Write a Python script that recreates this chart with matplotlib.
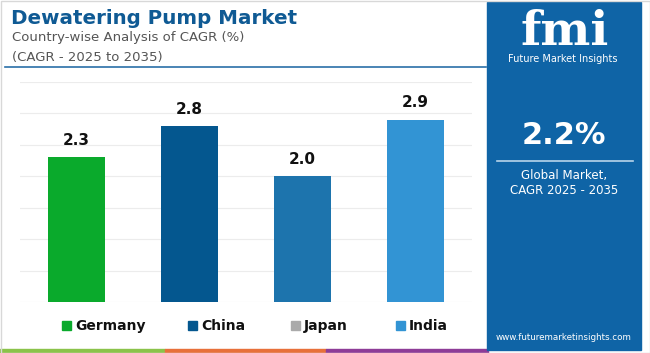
import numpy as np
import matplotlib.pyplot as plt
from matplotlib.patches import Rectangle

countries = ["Germany", "China", "Japan", "India"]
cagr = [2.3, 2.8, 2.0, 2.9]
bar_colors = ["#0aaa2c", "#04578f", "#1d74ad", "#3294d4"]
legend_colors = ["#0aaa2c", "#04578f", "#aaaaaa", "#3294d4"]
global_cagr = "2.2%"

W, H = 650, 353
fig = plt.figure(figsize=(6.5, 3.53), dpi=100)
fig.patch.set_facecolor("white")

def px(x, y):
    # pixel coords (top-left origin) -> figure fraction
    return x / W, 1 - y / H

# chart axes
ax = fig.add_axes([20 / W, 51 / H, 452 / W, 220 / H])
x = np.arange(len(countries))
bars = ax.bar(x, cagr, width=0.5, color=bar_colors, zorder=3)
for xi, v in zip(x, cagr):
    ax.text(xi, v + 0.15, f"{v:.1f}", ha="center", va="bottom",
            fontsize=11, fontweight="bold", color="#111111")
ax.set_xlim(-0.5, 3.5)
ax.set_ylim(0, 3.5)
ax.set_yticks(np.arange(0, 3.51, 0.5))
ax.grid(axis="y", color="#ececec", linewidth=0.8, zorder=0)
ax.tick_params(left=False, bottom=False, labelleft=False, labelbottom=False)
for s in ax.spines.values():
    s.set_visible(False)

# titles
fig.text(*px(11, 18), "Dewatering Pump Market", fontsize=14.3, fontweight="bold",
         color="#0f5a94", va="center", ha="left")
fig.text(*px(12, 38), "Country-wise Analysis of CAGR (%)", fontsize=9.5,
         color="#555555", va="center", ha="left")
fig.text(*px(12, 57), "(CAGR - 2025 to 2035)", fontsize=9.5,
         color="#555555", va="center", ha="left")
fig.add_artist(plt.Line2D([5 / W, 486 / W], [1 - 67 / H, 1 - 67 / H],
                          color="#2a6fa8", linewidth=1.2))

# legend
leg_x = [62, 188, 291, 396]
for lx, name, c in zip(leg_x, countries, legend_colors):
    fig.add_artist(Rectangle(px(lx, 330), 9 / W, 9 / H, color=c,
                             transform=fig.transFigure))
    fig.text(*px(lx + 13, 330), name, fontsize=10, fontweight="bold",
             color="#111111", va="baseline", ha="left")

# bottom colour strip
for x0, x1, c in [(0, 165, "#8bc34a"), (165, 326, "#e8703a"), (326, 488, "#8e3c97")]:
    fig.add_artist(Rectangle(px(x0, 353), (x1 - x0) / W, 4 / H, color=c,
                             transform=fig.transFigure))

# right panel
fig.add_artist(Rectangle(px(487, 350), 154 / W, 348 / H, color="#0f64a6",
                         transform=fig.transFigure))
fig.text(*px(565, 32), "fmi", fontsize=34, fontweight="bold", family="DejaVu Serif",
         color="white", va="center", ha="center")
fig.text(*px(563, 59), "Future Market Insights", fontsize=7, color="white",
         va="center", ha="center")
fig.text(*px(564, 135), global_cagr, fontsize=22, fontweight="bold", color="white",
         va="center", ha="center")
fig.add_artist(plt.Line2D([497 / W, 633 / W], [1 - 161 / H, 1 - 161 / H],
                          color="#b8d4ea", linewidth=1.2))
fig.text(*px(564, 175), "Global Market,", fontsize=8.5, color="white",
         va="center", ha="center")
fig.text(*px(564, 191), "CAGR 2025 - 2035", fontsize=8.5, color="white",
         va="center", ha="center")
fig.text(*px(564, 337), "www.futuremarketinsights.com", fontsize=6.3, color="white",
         va="center", ha="center")

# outer border
fig.add_artist(Rectangle((0.5 / W, 0.5 / H), 649 / W, 352 / H, fill=False,
                         edgecolor="#d8d8d8", linewidth=1, transform=fig.transFigure))

fig.savefig("out.png", dpi=100)
